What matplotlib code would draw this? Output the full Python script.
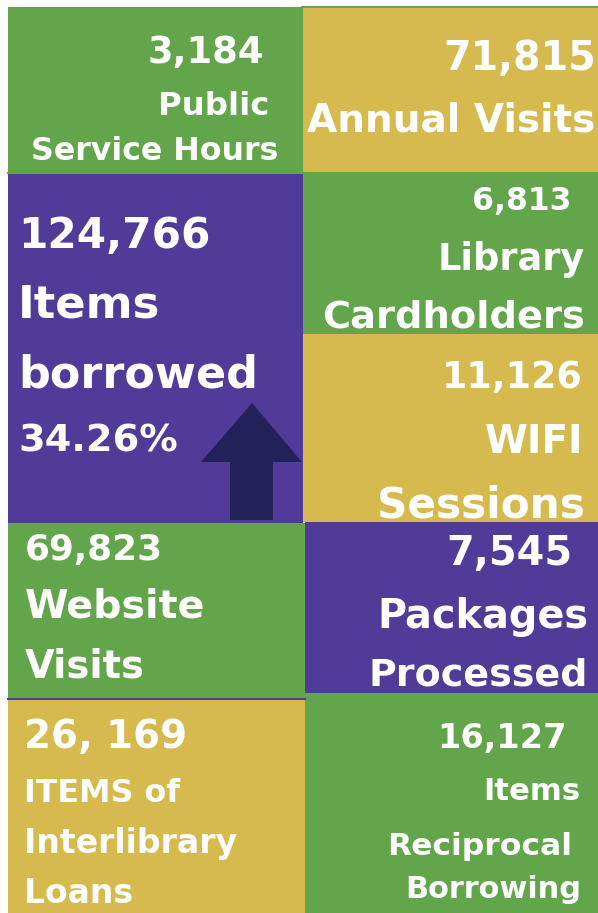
import matplotlib
matplotlib.use('Agg')
import matplotlib.pyplot as plt
from matplotlib.patches import Rectangle, Polygon

# colours
GREEN = '#63a54a'
GOLD = '#d6ba4d'
PURPLE = '#503b98'
DARK = '#24215a'

# stats shown on the tiles
values = ['3,184', '71,815', '124,766', '6,813', '11,126',
          '69,823', '7,545', '26, 169', '16,127']
labels = [['Public', 'Service Hours'],
          ['Annual Visits'],
          ['Items', 'borrowed', '34.26%'],
          ['Library', 'Cardholders'],
          ['WIFI', 'Sessions'],
          ['Website', 'Visits'],
          ['Packages', 'Processed'],
          ['ITEMS of', 'Interlibrary', 'Loans'],
          ['Items', 'Reciprocal', 'Borrowing']]

# tile layout in pixels (x0, y0, x1, y1), colour
tiles = [(8, 7, 302, 173, GREEN),
         (302, 7, 598, 172, GOLD),
         (8, 173, 303, 523, PURPLE),
         (303, 172, 598, 334, GREEN),
         (303, 334, 598, 522, GOLD),
         (8, 523, 305, 699, GREEN),
         (305, 522, 598, 693, PURPLE),
         (8, 699, 305, 913, GOLD),
         (305, 693, 598, 913, GREEN)]

# for every line of text: left x, right x, baseline y
line_pos = [[(148, 265, 63), (158, 269, 115), (31, 279, 160)],
            [(443, 596, 70), (307, 596, 132)],
            [(18, 211, 248), (18, 160, 318), (18, 258, 388), (18, 178, 452)],
            [(472, 572, 210), (438, 585, 270), (322, 585, 327)],
            [(442, 583, 388), (485, 583, 453), (377, 585, 517)],
            [(25, 163, 560), (25, 205, 618), (25, 145, 677)],
            [(446, 573, 565), (377, 588, 628), (369, 588, 685)],
            [(24, 187, 748), (24, 180, 802), (24, 238, 853), (24, 133, 903)],
            [(437, 567, 748), (483, 580, 800), (387, 572, 855), (405, 582, 898)]]

fig = plt.figure(figsize=(5.98, 9.13), dpi=100)
fig.patch.set_facecolor('white')
ax = fig.add_axes([0, 0, 1, 1])
ax.set_xlim(0, 598)
ax.set_ylim(913, 0)
ax.axis('off')

for x0, y0, x1, y1, c in tiles:
    ax.add_patch(Rectangle((x0, y0), x1 - x0, y1 - y0, facecolor=c, edgecolor='none'))

# thin seams between tiles
ax.plot([302, 302], [7, 172], color=GREEN, lw=1.5)
ax.plot([302, 598], [7.5, 7.5], color=GREEN, lw=1.5)
ax.plot([8, 305], [699, 699], color=PURPLE, lw=1.5)
ax.plot([8, 303], [173.5, 173.5], color=GREEN, lw=1.5)

# up arrow in the borrowed tile
arrow = [(201, 462), (252, 403), (302, 462), (273, 462), (273, 520), (230, 520), (230, 462)]
ax.add_patch(Polygon(arrow, closed=True, facecolor=DARK, edgecolor='none'))

renderer = fig.canvas.get_renderer()

def fit_text(s, x0, x1, yb):
    # size each line so it spans the same width as in the original
    t = ax.text(x0, yb, s, color='white', fontsize=20, fontweight='bold',
                family='DejaVu Sans', ha='left', va='baseline')
    bb = t.get_window_extent(renderer)
    t.set_fontsize(20 * (x1 - x0) / bb.width)
    return t

for i in range(len(values)):
    lines = [values[i]] + labels[i]
    for s, (x0, x1, yb) in zip(lines, line_pos[i]):
        fit_text(s, x0, x1, yb)

fig.savefig('out.png', dpi=100, facecolor='white')
